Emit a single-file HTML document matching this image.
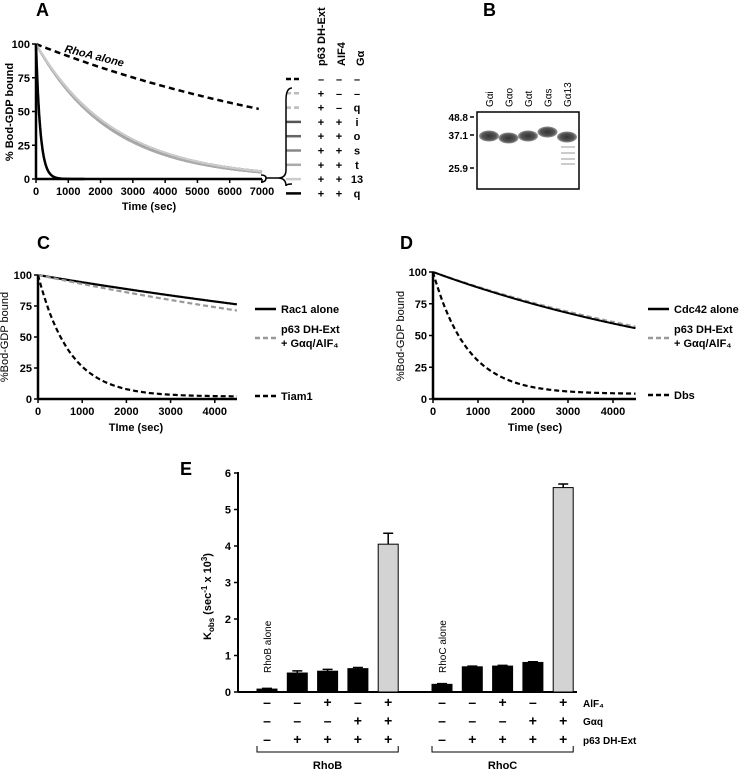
<!DOCTYPE html>
<html><head><meta charset="utf-8"><style>
body{margin:0;background:#fff;}
svg{display:block;font-family:"Liberation Sans",Arial,sans-serif;font-weight:bold;}
</style></head><body>
<svg id="fig" width="750" height="773" viewBox="0 0 750 773">
<defs><radialGradient id="band"><stop offset="0" stop-color="#333"/><stop offset="0.7" stop-color="#555"/><stop offset="1" stop-color="#999"/></radialGradient></defs>
</svg>
<script>
// ---- data ----
const tickA=[0,1000,2000,3000,4000,5000,6000,7000];
const yTicks=[0,25,50,75,100];
const kRhoA=0.000095, kFastA=0.0075, kGefA=0.00041;
const legendA=[["-","-","-"],["+","-","-"],["+","-","q"],["+","+","i"],["+","+","o"],["+","+","s"],["+","+","t"],["+","+","13"],["+","+","q"]];
const tickCD=[0,1000,2000,3000,4000];
const kRac=0.00006, kRacP63=0.000075, kTiam=0.0014;
const kCdc=0.00013, kCdcP63=0.000125, kDbs=0.0013;
const catsE=["RhoB","RhoC"];
const valsRhoB=[0.08,0.52,0.57,0.64,4.05];
const errRhoB=[0.02,0.06,0.05,0.03,0.3];
const valsRhoC=[0.21,0.69,0.71,0.81,5.6];
const errRhoC=[0.02,0.02,0.02,0.02,0.1];
const aif=["-","-","+","-","+"], gaq=["-","-","-","+","+"], p63=["-","+","+","+","+"];
const ticksE=[0,1,2,3,4,5,6];
// ---- helpers ----
const svg=document.getElementById('fig');const NS="http://www.w3.org/2000/svg";
function el(t,a,p){const e=document.createElementNS(NS,t);for(const k in a)e.setAttribute(k,a[k]);(p||svg).appendChild(e);return e;}
function txt(x,y,s,a){const e=el('text',Object.assign({x:x,y:y},a||{}));e.textContent=s;return e;}
function axes(x0,x1,y0,y1,xt,xs,yt,ys,fs){
  const g=el('g',{});
  
  
  el('line',{x1:x0,y1:y0,x2:x0,y2:y1,stroke:'#000','stroke-width':2.5},g);
  el('line',{x1:x0,y1:y0,x2:x1,y2:y0,stroke:'#000','stroke-width':2.5},g);
  xt.forEach(v=>{const x=xs(v);el('line',{x1:x,y1:y0,x2:x,y2:y0+4,stroke:'#000','stroke-width':1.5},g);
    const t=txt(x,y0+16,v,{'text-anchor':'middle','font-size':fs},);g.appendChild(t);});
  yt.forEach(v=>{const y=ys(v);el('line',{x1:x0-4,y1:y,x2:x0,y2:y,stroke:'#000','stroke-width':1.5},g);
    const t=txt(x0-6,y+4,v,{'text-anchor':'end','font-size':fs});g.appendChild(t);});
}
function curve(f,xs,ys,tmax,attrs,name){let d="";for(let t=0;t<=tmax;t+=tmax/200){d+=(t?"L":"M")+xs(t).toFixed(1)+","+ys(f(t)).toFixed(1);}
  const p=el('path',Object.assign({d:d,fill:'none'},attrs));
  
  return p;}
// ---- Panel A ----
txt(36,16,"A",{'font-size':18});
{const xs=v=>36+v*(226/7000), ys=v=>179-v*1.35;
axes(36,262,179,44,tickA,xs,yTicks,ys,11);
txt(149,210,"Time (sec)",{'text-anchor':'middle','font-size':11});
txt(13,112,"% Bod-GDP bound",{'text-anchor':'middle','font-size':11,transform:'rotate(-90 13 112)'});
curve(t=>100*Math.exp(-kRhoA*t),xs,ys,6900,{stroke:'#000','stroke-width':2.5,'stroke-dasharray':'6,4'},'rhoa-alone-curve');
txt(64,52,"RhoA alone",{'font-size':11,'font-style':'italic',transform:'rotate(14 64 52)'});
const greys=['#bbb','#aaa','#555','#666','#888','#aaa','#ccc'];
greys.forEach((c,i)=>{curve(t=>100*Math.exp(-(kGefA+(i%3)*0.000012)*t),xs,ys,7000,{stroke:c,'stroke-width':2},'gef-curve-'+i);});
curve(t=>100*Math.exp(-kFastA*t),xs,ys,1500,{stroke:'#000','stroke-width':2.5},'p63-gaq-aif4-curve');
// legend
txt(0,0,"p63 DH-Ext",{'font-size':11,transform:'translate(325,66) rotate(-90)'});
txt(0,0,"AIF4",{'font-size':11,transform:'translate(345,66) rotate(-90)'});
txt(0,0,"Gα",{'font-size':11,transform:'translate(364,66) rotate(-90)'});
const lc=['#000','#bbb','#bbb','#555','#666','#888','#aaa','#ccc','#000'];
legendA.forEach((r,i)=>{const y=79+i*14.3;
  const l=el('line',{x1:286,y1:y,x2:301,y2:y,stroke:lc[i],'stroke-width':2.5,'stroke-dasharray':(i<3?'5,3':'none')});
  
  
  [r[0],r[1],r[2]].forEach((s,j)=>txt([321,339,357][j],y+4,s==="-"?"–":s,{'text-anchor':'middle','font-size':11}));});
el('path',{d:'M292,88 Q286,88 286,100 L286,170 Q286,178 278,178 Q286,178 286,186 Q286,184 292,184',fill:'none',stroke:'#000','stroke-width':1.5});
el('path',{d:'M261,175 Q266,175 266,178 Q266,182 261,182 M266,178 L278,178',fill:'none',stroke:'#000','stroke-width':1.5});
}
// ---- Panel B ----
txt(483,16,"B",{'font-size':18});
el('rect',{x:477,y:112,width:102,height:77,fill:'#fff',stroke:'#000','stroke-width':1.5});
["Gαi","Gαo","Gαt","Gαs","Gα13"].forEach((s,i)=>{const x=489+i*19.5;
  txt(0,0,s,{'font-size':10,'font-weight':'normal',transform:`translate(${x+4},107) rotate(-90)`});
  const e=el('ellipse',{cx:x,cy:[136,138,136,132,137][i],rx:10,ry:5.5,fill:'url(#band)'});
  
  });
[146,152,158,163].forEach(y=>el('rect',{x:561,y:y,width:14,height:2,fill:'#ccc'}));
[["48.8",117],["37.1",135],["25.9",168]].forEach(m=>{txt(468,m[1]+4,m[0],{'text-anchor':'end','font-size':10});el('line',{x1:470,y1:m[1],x2:474,y2:m[1],stroke:'#000','stroke-width':1.5});});
// ---- Panel C ----
txt(37,249,"C",{'font-size':18});
{const xs=v=>38+v*0.0442, ys=v=>399-v*1.24;
axes(38,237,399,275,tickCD,xs,yTicks,ys,11);
txt(136,431,"TIme (sec)",{'text-anchor':'middle','font-size':11});
txt(8,337,"%Bod-GDP bound",{'text-anchor':'middle','font-size':11,'font-weight':'normal',transform:'rotate(-90 8 337)'});
curve(t=>100*Math.exp(-kRac*t),xs,ys,4500,{stroke:'#000','stroke-width':2.2},'rac1-alone-curve');
curve(t=>100*Math.exp(-kRacP63*t),xs,ys,4500,{stroke:'#999','stroke-width':2.2,'stroke-dasharray':'5,3'},'rac1-p63-curve');
curve(t=>2+98*Math.exp(-kTiam*t),xs,ys,4500,{stroke:'#000','stroke-width':2.2,'stroke-dasharray':'5,3'},'tiam1-curve');
el('line',{x1:255,y1:309,x2:276,y2:309,stroke:'#000','stroke-width':2.5});txt(281,313,"Rac1 alone",{'font-size':11});
el('line',{x1:255,y1:338,x2:276,y2:338,stroke:'#999','stroke-width':2.5,'stroke-dasharray':'5,3'});txt(281,333,"p63 DH-Ext",{'font-size':11});txt(281,347,"+ Gαq/AlF₄",{'font-size':11});
el('line',{x1:255,y1:396,x2:276,y2:396,stroke:'#000','stroke-width':2.5,'stroke-dasharray':'5,3'});txt(281,400,"Tiam1",{'font-size':11});
}
// ---- Panel D ----
txt(400,249,"D",{'font-size':18});
{const xs=v=>433+v*0.045, ys=v=>399-v*1.27;
axes(433,636,399,272,tickCD,xs,yTicks,ys,11);
txt(535,431,"Time (sec)",{'text-anchor':'middle','font-size':11});
txt(404,336,"%Bod-GDP bound",{'text-anchor':'middle','font-size':11,'font-weight':'normal',transform:'rotate(-90 404 336)'});
curve(t=>100*Math.exp(-kCdcP63*t),xs,ys,4500,{stroke:'#999','stroke-width':2.2,'stroke-dasharray':'5,3'},'cdc42-p63-curve');
curve(t=>100*Math.exp(-kCdc*t),xs,ys,4500,{stroke:'#000','stroke-width':2},'cdc42-alone-curve');
curve(t=>4+96*Math.exp(-kDbs*t),xs,ys,4500,{stroke:'#000','stroke-width':2.2,'stroke-dasharray':'5,3'},'dbs-curve');
el('line',{x1:648,y1:309,x2:669,y2:309,stroke:'#000','stroke-width':2.5});txt(674,313,"Cdc42 alone",{'font-size':11});
el('line',{x1:648,y1:338,x2:669,y2:338,stroke:'#999','stroke-width':2.5,'stroke-dasharray':'5,3'});txt(674,333,"p63 DH-Ext",{'font-size':11});txt(674,347,"+ Gαq/AlF₄",{'font-size':11});
el('line',{x1:648,y1:395,x2:669,y2:395,stroke:'#000','stroke-width':2.5,'stroke-dasharray':'5,3'});txt(674,399,"Dbs",{'font-size':11});
}
// ---- Panel E ----
txt(180,475,"E",{'font-size':18});
{const ys=v=>692-v*36.5, x0=238;
el('line',{x1:x0,y1:692,x2:x0,y2:472,stroke:'#000','stroke-width':2});
el('line',{x1:x0,y1:692,x2:577,y2:692,stroke:'#000','stroke-width':2});
ticksE.forEach(v=>{el('line',{x1:x0-4,y1:ys(v),x2:x0,y2:ys(v),stroke:'#000','stroke-width':1.5});txt(x0-7,ys(v)+4,v,{'text-anchor':'end','font-size':11});});
const yl=el('text',{x:0,y:0,'font-size':11,transform:'translate(211,640) rotate(-90)'});
yl.innerHTML='K<tspan font-size="8" dy="3">obs</tspan><tspan dy="-3"> (sec</tspan><tspan font-size="8" dy="-4">-1</tspan><tspan dy="4"> x 10</tspan><tspan font-size="8" dy="-4">3</tspan><tspan dy="4">)</tspan>';
const groups=[valsRhoB,valsRhoC], errs=[errRhoB,errRhoC];
const xsE=(g,i)=>267+g*175+i*30.3;
groups.forEach((vals,g)=>{vals.forEach((v,i)=>{const cx=xsE(g,i);
  const b=el('rect',{x:cx-10,y:ys(v),width:20,height:692-ys(v),fill:i==4?'#d3d3d3':'#000',stroke:'#000','stroke-width':1});
  
  
  const e=errs[g][i];el('path',{d:`M${cx},${ys(v)} V${ys(v+e)} M${cx-5},${ys(v+e)} H${cx+5}`,stroke:'#000','stroke-width':1.5});
  [aif[i],gaq[i],p63[i]].forEach((s,r)=>txt(cx,707+r*18.5,s==="-"?"–":s,{'text-anchor':'middle','font-size':14}));});
  const a=xsE(g,0)-10,bx=xsE(g,4)+10;
  el('path',{d:`M${a},746 V752 H${bx} V746`,fill:'none',stroke:'#000','stroke-width':1});
  txt((a+bx)/2,769,catsE[g],{'text-anchor':'middle','font-size':11});});
txt(0,0,"RhoB alone",{'font-size':10,'font-weight':'normal',transform:'translate(271,673) rotate(-90)'});
txt(0,0,"RhoC alone",{'font-size':10,'font-weight':'normal',transform:'translate(446,673) rotate(-90)'});
txt(583,707,"AlF₄",{'font-size':10});txt(583,725,"Gαq",{'font-size':10});txt(583,744,"p63 DH-Ext",{'font-size':10});
}
</script>
</body></html>
